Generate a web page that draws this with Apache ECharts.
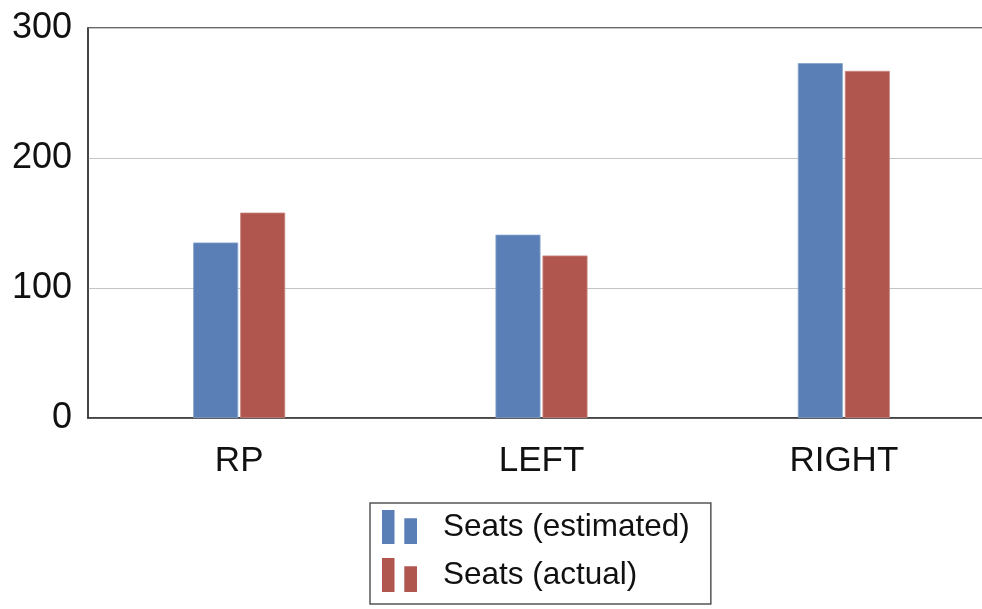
<!DOCTYPE html>
<html>
<head>
<meta charset="utf-8">
<script src="https://cdn.jsdelivr.net/npm/echarts@6/dist/echarts.min.js"></script>
<style>
html, body { margin: 0; padding: 0; background: #fff; }
#main { width: 982px; height: 609px; }
</style>
</head>
<body>
<div id="main"></div>
<script>
var categories = ['RP', 'LEFT', 'RIGHT'];
var seriesNames = ['Seats (estimated)', 'Seats (actual)'];
var estimated = [135, 141, 273];
var actual = [158, 125, 267];
var yTicks = [0, 100, 200, 300];

var blue = '#5a7fb6';
var red = '#b0564f';
var fontName = '"Liberation Sans", Arial, sans-serif';
// two little bars, like the pgfplots ybar legend
var legendIcon = 'path://M0,0 H12.5 V34 H0 Z M22.3,8.3 H35 V34 H22.3 Z';

var myChart = echarts.init(document.getElementById('main'));

option = {
    animation: false,
    textStyle: { fontFamily: fontName },
    grid: {
        left: 88,
        top: 28,
        bottom: 191,
        width: 907,   // right edge runs past the canvas, like the cropped original
        outerBoundsMode: 'none',
        show: true,
        borderColor: '#3a3a3a',
        borderWidth: 1.5
    },
    legend: {
        data: seriesNames,
        orient: 'vertical',
        left: 370,
        top: 503,
        padding: [7, 21, 12, 12],
        itemWidth: 35,
        itemHeight: 34,
        itemGap: 14,
        icon: legendIcon,
        itemStyle: { borderWidth: 0 },
        borderColor: '#555',
        borderWidth: 1.5,
        textStyle: {
            fontSize: 31.5,
            color: '#111',
            fontFamily: fontName,
            lineHeight: 29,
            padding: [5, 0, 0, 21]
        }
    },
    xAxis: {
        type: 'category',
        data: categories,
        axisLine: { show: true, lineStyle: { color: '#3a3a3a', width: 1.5 } },
        axisTick: { show: false },
        axisLabel: { fontSize: 35, color: '#111', margin: 26, fontFamily: fontName }
    },
    yAxis: {
        type: 'value',
        min: yTicks[0],
        max: yTicks[yTicks.length - 1],
        interval: 100,
        axisLine: { show: true, lineStyle: { color: '#3a3a3a', width: 1.5 } },
        axisTick: { show: false },
        axisLabel: { fontSize: 36, color: '#111', margin: 16, padding: [6, 0, 0, 0], fontFamily: fontName },
        splitLine: { show: true, lineStyle: { color: '#c4c4c4', width: 1.2 } }
    },
    series: [
        {
            name: seriesNames[0],
            type: 'bar',
            data: estimated,
            barWidth: 45,
            barGap: '4.5%',
            itemStyle: { color: blue, borderColor: '#86a3cc', borderWidth: 0.8 }
        },
        {
            name: seriesNames[1],
            type: 'bar',
            data: actual,
            barWidth: 45,
            barGap: '4.5%',
            itemStyle: { color: red, borderColor: '#c98780', borderWidth: 0.8 }
        }
    ]
};
myChart.setOption(option);
</script>
</body>
</html>
